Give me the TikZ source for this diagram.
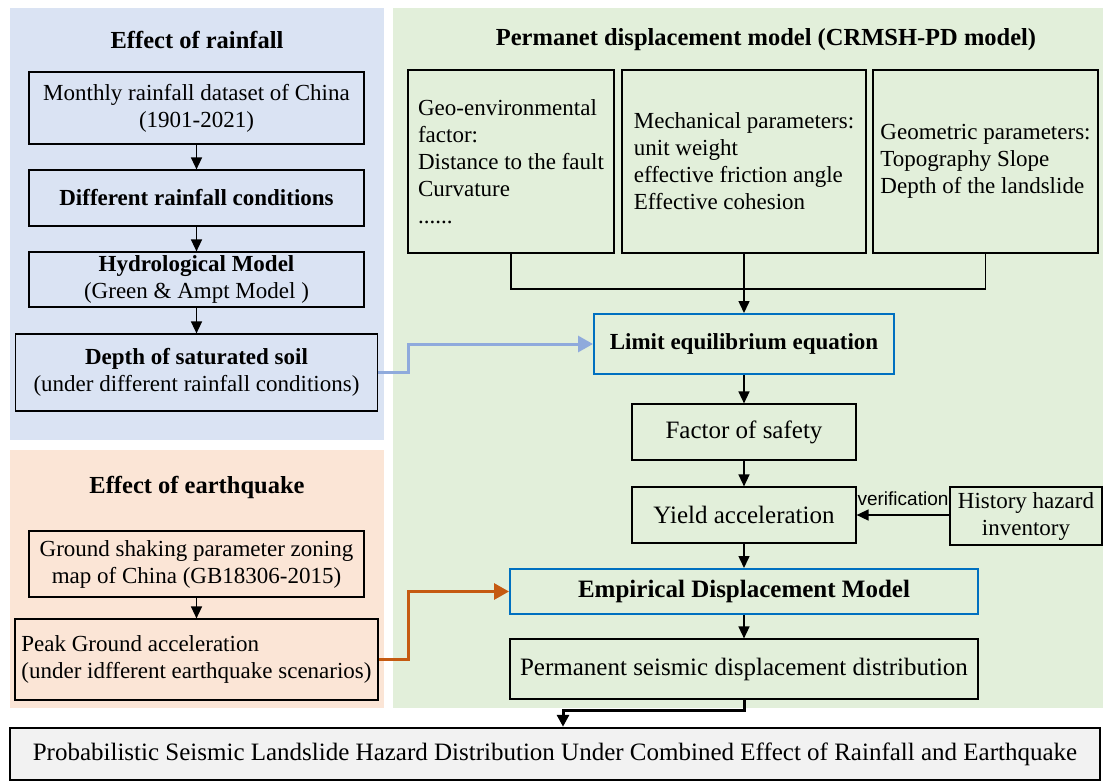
\documentclass[tikz,border=0pt]{standalone}
\usepackage{fontspec}
\setmainfont{Liberation Serif}
\newfontfamily\versans{Liberation Sans}
\usetikzlibrary{arrows.meta}
\definecolor{pblue}{HTML}{DAE3F3}
\definecolor{porange}{HTML}{FBE5D6}
\definecolor{pgreen}{HTML}{E2EFDA}
\definecolor{ablue}{HTML}{8FAADC}
\definecolor{aorange}{HTML}{C55A11}
\definecolor{bblue}{RGB}{0,112,192}
\definecolor{bgray}{HTML}{F2F2F2}
\newcommand{\mytxt}{\fontsize{23}{27}\selectfont}
\newcommand{\mybig}{\fontsize{25}{28}\selectfont}
\newcommand{\myttl}{\fontsize{24.5}{28}\selectfont\bfseries}
\begin{document}
\begin{tikzpicture}[x=1pt,y=-1pt,
  panel/.style={draw=none, inner sep=0pt},
  box/.style={draw, line width=1.2pt, inner sep=0pt, align=center, font=\mytxt},
  lbox/.style={draw, line width=1.2pt, inner sep=0pt, align=left, font=\mytxt},
  bluebox/.style={draw=bblue, line width=2pt, inner sep=0pt, align=center, font=\mytxt\bfseries},
  ttl/.style={font=\myttl, inner sep=0pt},
  arr/.style={line width=1.5pt, -{Triangle[length=12pt,width=11pt]}},
  barr/.style={line width=3pt, draw=ablue, -{Triangle[length=15pt,width=16pt]}},
  oarr/.style={line width=3pt, draw=aorange, -{Triangle[length=15pt,width=16pt]}}
]
\useasboundingbox (0,0) rectangle (1105,782);
\fill[white] (0,0) rectangle (1105,782);
% panels
\node[panel, fill=pblue, minimum width=374pt, minimum height=432pt] (rainp) at (197,224) {};
\node[panel, fill=porange, minimum width=374pt, minimum height=258pt] (quakep) at (197,579) {};
\node[panel, fill=pgreen, minimum width=710pt, minimum height=700pt] (greenp) at (748,358) {};
% titles
\node[ttl] (t1) at (197,40) {Effect of rainfall};
\node[ttl] (t2) at (197,487) {Effect of earthquake};
\node[ttl] (t3) at (766,40) {Permanet displacement model (CRMSH-PD model)};
% rainfall column
\node[box, minimum width=335pt, minimum height=72pt] (r1) at (196.5,108) {Monthly rainfall dataset of China\\(1901-2021)};
\node[box, minimum width=335pt, minimum height=56pt, font=\mytxt\bfseries] (r2) at (196.5,198) {Different rainfall conditions};
\node[box, minimum width=335pt, minimum height=55pt] (r3) at (196.5,279.5) {\textbf{Hydrological Model}\\(Green \& Ampt Model )};
\node[box, minimum width=362pt, minimum height=77pt] (r4) at (196.5,372.5) {\textbf{Depth of saturated soil}\\(under different rainfall conditions)};
% earthquake column
\node[box, minimum width=335pt, minimum height=66pt] (e1) at (196.5,564) {Ground shaking parameter zoning\\map of China (GB18306-2015)};
\node[lbox, minimum width=363pt, minimum height=81pt] (e2) at (196.5,659.5) {Peak Ground acceleration\\(under idfferent earthquake scenarios)};
% green panel
\node[lbox, minimum width=206pt, minimum height=183pt] (g1) at (511,161.5) {Geo-environmental\\factor:\\Distance to the fault\\Curvature\\......};
\node[lbox, minimum width=244pt, minimum height=183pt] (g2) at (744,161.5) {Mechanical parameters:\\unit weight\\effective friction angle\\Effective cohesion};
\node[lbox, minimum width=225pt, minimum height=183pt] (g3) at (985.5,161.5) {Geometric parameters:\\Topography Slope\\Depth of the landslide};
\node[bluebox, minimum width=300pt, minimum height=60pt] (le) at (744,344) {Limit equilibrium equation};
\node[box, minimum width=224pt, minimum height=56pt, font=\mybig] (fos) at (744,432) {Factor of safety};
\node[box, minimum width=224pt, minimum height=56pt, font=\mybig] (yld) at (744,515) {Yield acceleration};
\node[box, minimum width=152pt, minimum height=58pt] (his) at (1026,516) {History hazard\\inventory};
\node[bluebox, minimum width=468pt, minimum height=45pt, font=\mybig\bfseries] (edm) at (744,591.5) {Empirical Displacement Model};
\node[box, minimum width=468pt, minimum height=60pt, font=\mybig] (psd) at (744,669) {Permanent seismic displacement distribution};
\node[box, line width=2.5pt, fill=bgray, minimum width=1090pt, minimum height=52pt, font=\mybig] (bot) at (555,754) {Probabilistic Seismic Landslide Hazard Distribution Under Combined Effect of Rainfall and Earthquake};
% connectors
\draw[arr] (r1) -- (r2);
\draw[arr] (r2) -- (r3);
\draw[arr] (r3) -- (r4);
\draw[arr] (e1) -- (e2);
\coordinate (jn) at (744,289);
\draw[line width=1.5pt] (g1.south) |- (jn) -| (g3.south);
\draw[arr] (g2.south) -- (le.north);
\draw[arr] (le) -- (fos);
\draw[arr] (fos) -- (yld);
\draw[arr] (yld) -- (edm);
\draw[arr] (edm) -- (psd);
\draw[arr] (his.west |- yld.east) -- node[above=9pt, inner sep=0pt, font=\versans\fontsize{19}{21}\selectfont] (verif) {verification} (yld.east);
\draw[barr] (r4.east) -- ++(30,0) |- (le.west);
\draw[oarr] (e2.east) -- ++(30,0) |- (edm.west);
\draw[line width=3pt, -{Triangle[length=12pt,width=12pt]}] (psd.south) -- ++(0,11) -| ([xshift=8pt]bot.north);
\end{tikzpicture}
\end{document}
